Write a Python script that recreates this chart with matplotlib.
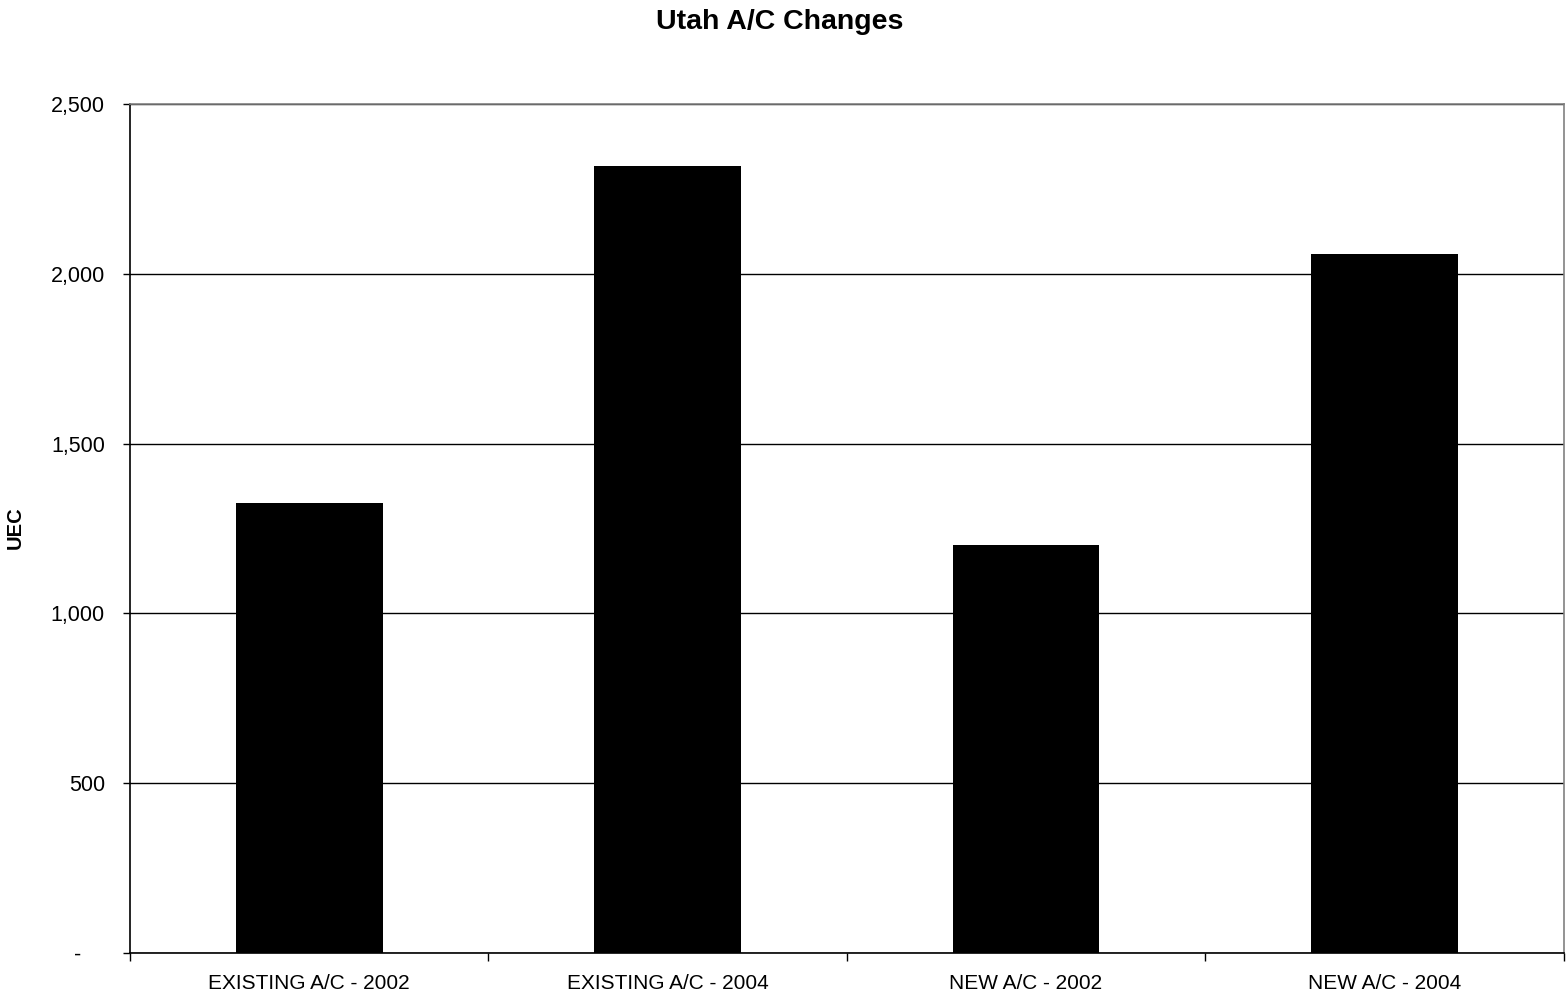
import matplotlib.pyplot as plt
from matplotlib.ticker import FixedLocator, FuncFormatter

categories = ["EXISTING A/C - 2002", "EXISTING A/C - 2004", "NEW A/C - 2002", "NEW A/C - 2004"]
uec_values = [1326, 2318, 1200, 2059]
y_ticks = [0, 500, 1000, 1500, 2000, 2500]

plt.rcParams["font.family"] = ["Liberation Sans", "DejaVu Sans"]

fig = plt.figure(figsize=(15.66, 10), dpi=100)
ax = fig.add_axes([0.083, 0.047, 0.9155, 0.849])

positions = list(range(len(categories)))
ax.bar(positions, uec_values, width=0.41, color="black", zorder=3)

ax.set_xlim(-0.5, len(categories) - 0.5)
ax.set_ylim(0, 2500)

# accounting style: zero shows as a dash, set in from the right
ax.set_yticks(y_ticks)
ax.yaxis.set_major_formatter(
    FuncFormatter(lambda v, p: "-    " if v == 0 else f"{int(v):,}")
)
ax.yaxis.grid(True, color="black", linewidth=1.0, zorder=0)

ax.set_xticks(positions)
ax.set_xticklabels(categories)
ax.xaxis.set_minor_locator(FixedLocator([i - 0.5 for i in range(len(categories) + 1)]))
ax.tick_params(axis="x", which="major", length=0, pad=15, labelsize=15)
ax.tick_params(axis="x", which="minor", length=6, width=1, direction="out")
ax.tick_params(axis="y", length=5, width=1, direction="out", labelsize=15.5, pad=13)

ax.spines["left"].set_color("black")
ax.spines["bottom"].set_color("black")
ax.spines["top"].set_color("#808080")
ax.spines["right"].set_color("#808080")
for s in ax.spines.values():
    s.set_linewidth(1.2)

fig.text(15 / 1566, 0.472, "UEC", rotation=90, ha="center", va="center",
         fontsize=14.5, fontweight="bold")
fig.text(0.498, 0.978, "Utah A/C Changes", ha="center", va="center",
         fontsize=20.5, fontweight="bold")

plt.savefig("out.png", dpi=100)
